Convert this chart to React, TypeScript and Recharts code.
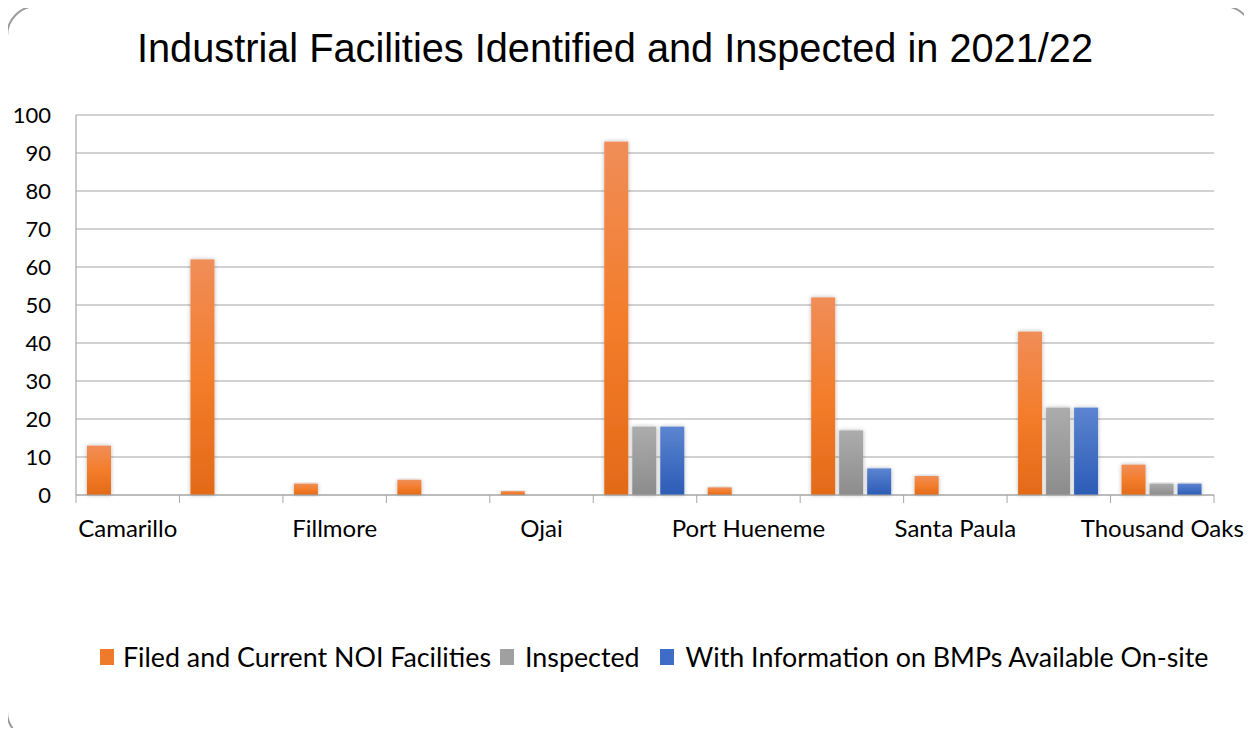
import React from 'react';
import { BarChart, Bar, XAxis, YAxis, CartesianGrid, Legend } from 'recharts';

// categories, in the order the report lists them (only every other name fits on the axis)
const cities = [
  'Camarillo',
  'County of Ventura',
  'Fillmore',
  'Moorpark',
  'Ojai',
  'Oxnard',
  'Port Hueneme',
  'San Buenaventura',
  'Santa Paula',
  'Simi Valley',
  'Thousand Oaks',
];
const filedNoi = [13, 62, 3, 4, 1, 93, 2, 52, 5, 43, 8];
const inspected = [0, 0, 0, 0, 0, 18, 0, 17, 0, 23, 3];
const withBmpInfo = [0, 0, 0, 0, 0, 18, 0, 7, 0, 23, 3];
const yTicks = [0, 10, 20, 30, 40, 50, 60, 70, 80, 90, 100];

const seriesNames = [
  'Filed and Current NOI Facilities',
  'Inspected',
  'With Information on BMPs Available On-site',
];

const data = cities.map((city, i) => ({
  city,
  filed: filedNoi[i],
  inspected: inspected[i],
  bmps: withBmpInfo[i],
}));

const W = 1252;
const H = 736;
const PLOT_LEFT = 76;
const PLOT_RIGHT = 1214;
const BAND = (PLOT_RIGHT - PLOT_LEFT) / cities.length;
const GRID = '#a6a6a6';
const FONT = 'Lato, "Open Sans", sans-serif';

const CityTick = (props: any) => {
  const { x, y, payload, index } = props;
  const left = x - BAND / 2;
  return (
    <g>
      <line x1={left} y1={y} x2={left} y2={y + 8} stroke={GRID} strokeWidth={1} />
      {index === cities.length - 1 && (
        <line x1={x + BAND / 2} y1={y} x2={x + BAND / 2} y2={y + 8} stroke={GRID} strokeWidth={1} />
      )}
      {index % 2 === 0 && (
        <text x={x} y={y + 42} textAnchor="middle" fontFamily={FONT} fontSize={24} fill="#000">
          {payload.value}
        </text>
      )}
    </g>
  );
};

const ShadowBar = (props: any) => {
  const { x, y, width, height, fill } = props;
  if (!height || height <= 0) return null;
  return <rect x={x} y={y} width={width} height={height} fill={fill} filter="url(#barShadow)" />;
};

const swatches = ['url(#gOrange)', 'url(#gGray)', 'url(#gBlue)'];
const swatchFlat = ['#ef7a2c', '#a0a0a0', '#3f6cc6'];
// spacing between a swatch and its text, and before the next swatch
const textGap = [9, 11, 12];
const itemGap = [9, 20, 0];

const LegendRow = () => (
  <div
    style={{
      display: 'flex',
      alignItems: 'center',
      justifyContent: 'flex-start',
      paddingLeft: 100,
      fontFamily: FONT,
      fontSize: 26.8,
      color: '#000',
      whiteSpace: 'nowrap',
    }}
  >
    {seriesNames.map((name, i) => (
      <div key={name} style={{ display: 'flex', alignItems: 'center', marginRight: itemGap[i] }}>
        <span
          style={{
            display: 'inline-block',
            width: 14,
            height: 16,
            background: swatchFlat[i],
            marginRight: textGap[i],
          }}
        />
        <span>{name}</span>
      </div>
    ))}
  </div>
);

export default function App() {
  return (
    <div style={{ position: 'relative', width: W, height: H, margin: -8, overflow: 'hidden', background: '#fff' }}>
      <svg width={W} height={H} style={{ position: 'absolute', left: 0, top: 0 }}>
        <text
          x={137}
          y={62}
          fontFamily='"Liberation Sans", Arial, sans-serif'
          fontSize={40}
          fill="#000"
          textLength={956}
          lengthAdjust="spacingAndGlyphs"
        >
          Industrial Facilities Identified and Inspected in 2021/22
        </text>
      </svg>
      <div style={{ position: 'absolute', left: 0, top: 0 }}>
        <BarChart
          width={W}
          height={H}
          data={data}
          margin={{ top: 115, right: W - PLOT_RIGHT, left: 0, bottom: 201 }}
          barCategoryGap={11}
          barGap={4}
        >
          <defs>
            <linearGradient id="gOrange" x1="0" y1="0" x2="0" y2="1">
              <stop offset="0%" stopColor="#f08d58" />
              <stop offset="50%" stopColor="#f37d2b" />
              <stop offset="100%" stopColor="#e36a18" />
            </linearGradient>
            <linearGradient id="gGray" x1="0" y1="0" x2="0" y2="1">
              <stop offset="0%" stopColor="#acacac" />
              <stop offset="100%" stopColor="#8c8c8c" />
            </linearGradient>
            <linearGradient id="gBlue" x1="0" y1="0" x2="0" y2="1">
              <stop offset="0%" stopColor="#5c84d0" />
              <stop offset="100%" stopColor="#2c5cb6" />
            </linearGradient>
            <filter id="barShadow" x="-30%" y="-10%" width="160%" height="120%">
              <feDropShadow dx={0} dy={0} stdDeviation={2.2} floodColor="#000" floodOpacity={0.28} />
            </filter>
          </defs>
          <CartesianGrid vertical={false} stroke={GRID} strokeWidth={1.2} />
          <XAxis
            dataKey="city"
            interval={0}
            height={40}
            tickSize={0}
            tickMargin={0}
            axisLine={{ stroke: GRID, strokeWidth: 1.2 }}
            tickLine={false}
            tick={<CityTick />}
          />
          <YAxis
            width={PLOT_LEFT}
            domain={[0, 100]}
            ticks={yTicks}
            interval={0}
            tickSize={0}
            tickMargin={25}
            tickLine={false}
            axisLine={{ stroke: GRID, strokeWidth: 1.2 }}
            tick={{ fill: '#000', fontSize: 22, fontFamily: FONT }}
          />
          <Legend
            verticalAlign="middle"
            layout="horizontal"
            wrapperStyle={{ top: 641, left: 0, width: W }}
            content={<LegendRow />}
          />
          <Bar dataKey="filed" name={seriesNames[0]} fill={swatches[0]} shape={<ShadowBar />} isAnimationActive={false} />
          <Bar dataKey="inspected" name={seriesNames[1]} fill={swatches[1]} shape={<ShadowBar />} isAnimationActive={false} />
          <Bar dataKey="bmps" name={seriesNames[2]} fill={swatches[2]} shape={<ShadowBar />} isAnimationActive={false} />
        </BarChart>
      </div>
      {/* slide frame, drawn on top so nothing hides it */}
      <svg width={W} height={H} style={{ position: 'absolute', left: 0, top: 0, pointerEvents: 'none' }}>
        <rect x={7} y={6} width={1246} height={735} rx={30} ry={30} fill="none" stroke="#9a9a9a" strokeWidth={2} />
      </svg>
    </div>
  );
}
